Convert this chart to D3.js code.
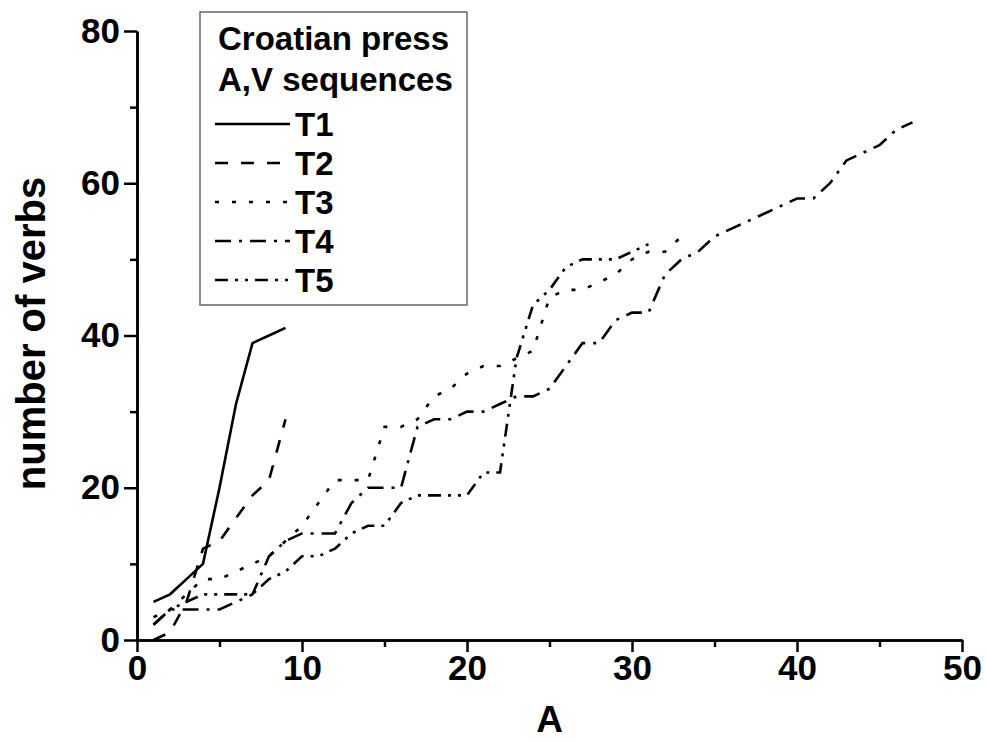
<!DOCTYPE html>
<html>
<head>
<meta charset="utf-8">
<script src="https://cdn.jsdelivr.net/npm/d3@7/dist/d3.min.js"></script>
<style>
  body { margin: 0; background: #fff; }
  text { font-family: "Liberation Sans", Arial, sans-serif; font-weight: bold; fill: #000; }
</style>
</head>
<body>
<svg id="chart" width="986" height="742"></svg>
<script>
// [A, number of verbs]
const t1 = [[1,5],[2,6],[3,8],[4,10],[5,20],[6,31],[7,39],[8,40],[9,41]];
const t2 = [[1,0],[2,1],[3,5],[4,12],[5,13],[6,16],[7,19],[8,21],[9,29]];
const t3 = [[1,3],[2,4],[3,6],[4,8],[5,8],[6,9],[7,10],[8,11],[9,13],[10,15],[11,18],[12,21],[13,21],[14,21],
  [15,28],[16,28],[17,29],[18,32],[19,33],[20,35],[21,36],[22,36],[23,37],[24,38],[25,45],[26,46],[27,46],
  [28,47],[29,48],[30,50],[31,51],[32,51],[33,53]];
const t4 = [[1,2],[2,4],[3,4],[4,4],[5,4],[6,5],[7,6],[8,11],[9,13],[10,14],[11,14],[12,14],[13,18],[14,20],
  [15,20],[16,20],[17,28],[18,29],[19,29],[20,30],[21,30],[22,31],[23,32],[24,32],[25,33],[26,36],[27,39],
  [28,39],[29,42],[30,43],[31,43],[32,48],[33,50],[34,51],[35,53],[36,54],[37,55],[38,56],[39,57],[40,58],
  [41,58],[42,60],[43,63],[44,64],[45,65],[46,67],[47,68]];
const t5 = [[1,2],[2,4],[3,5],[4,6],[5,6],[6,6],[7,6],[8,8],[9,9],[10,11],[11,11],[12,12],[13,14],[14,15],
  [15,15],[16,18],[17,19],[18,19],[19,19],[20,19],[21,22],[22,22],[23,37],[24,44],[25,46],[26,49],[27,50],
  [28,50],[29,50],[30,51],[31,52]];

const seriesNames = ["T1", "T2", "T3", "T4", "T5"];
const seriesData = [t1, t2, t3, t4, t5];
const dashes = [null, "13,13", "4,13", "16,8,3,8", "13,7,3,7,3,7"];

const xMajor = [0, 10, 20, 30, 40, 50];
const xMinor = [5, 15, 25, 35, 45];
const yMajor = [0, 20, 40, 60, 80];
const yMinor = [10, 30, 50, 70];
const legendTitle = ["Croatian press", "A,V sequences"];

const svg = d3.select("#chart");
const margin = {left: 137, right: 24, top: 31, bottom: 102};
const width = 986, height = 742;

const x = d3.scaleLinear().domain([0, 50]).range([margin.left, width - margin.right]);
const y = d3.scaleLinear().domain([0, 80]).range([height - margin.bottom, margin.top]);

// axes
function styleAxis(g) {
  g.select(".domain").attr("stroke", "#000").attr("stroke-width", 2.5);
  g.selectAll(".tick line").attr("stroke", "#000").attr("stroke-width", 2.5);
  g.selectAll(".tick text").style("font-size", "35px");
}

svg.append("g").attr("transform", `translate(0,${y(0)})`)
  .call(d3.axisBottom(x).tickValues(xMinor).tickSize(7).tickSizeOuter(0).tickFormat(""))
  .call(styleAxis);
svg.append("g").attr("transform", `translate(0,${y(0)})`)
  .call(d3.axisBottom(x).tickValues(xMajor).tickSize(12).tickSizeOuter(0).tickPadding(3))
  .call(styleAxis);
svg.append("g").attr("transform", `translate(${x(0)},0)`)
  .call(d3.axisLeft(y).tickValues(yMinor).tickSize(7).tickSizeOuter(0).tickFormat(""))
  .call(styleAxis);
svg.append("g").attr("transform", `translate(${x(0)},0)`)
  .call(d3.axisLeft(y).tickValues(yMajor).tickSize(13).tickSizeOuter(0).tickPadding(4))
  .call(styleAxis);

svg.append("text").attr("x", (x(0) + x(50)) / 2).attr("y", 732)
  .attr("text-anchor", "middle").style("font-size", "37px").text("A");
svg.append("text").attr("transform", `translate(45,${(y(0) + y(80)) / 2 - 2}) rotate(-90)`)
  .attr("text-anchor", "middle").style("font-size", "40px").text("number of verbs");

// lines
const line = d3.line().x(d => x(d[0])).y(d => y(d[1]));
svg.append("g").selectAll("path")
  .data(seriesData)
  .join("path")
    .attr("d", line)
    .attr("fill", "none")
    .attr("stroke", "#000")
    .attr("stroke-width", 2.6)
    .attr("stroke-dasharray", (d, i) => dashes[i]);

// legend
const legend = svg.append("g").attr("class", "legend");
legend.append("rect").attr("x", 200).attr("y", 12).attr("width", 267).attr("height", 293)
  .attr("fill", "#fff").attr("stroke", "#666").attr("stroke-width", 1.5);
legend.selectAll("text.title")
  .data(legendTitle)
  .join("text").attr("class", "title")
    .attr("x", 218).attr("y", (d, i) => 50 + i * 41)
    .style("font-size", "33px").text(d => d);
const items = legend.selectAll("g.item")
  .data(seriesNames)
  .join("g").attr("class", "item")
    .attr("transform", (d, i) => `translate(0,${136 + i * 39})`);
items.append("line").attr("x1", 215).attr("x2", 290).attr("y1", -12).attr("y2", -12)
  .attr("stroke", "#000").attr("stroke-width", 2.6)
  .attr("stroke-dasharray", (d, i) => dashes[i]);
items.append("text").attr("x", 295).attr("y", 0).style("font-size", "33px").text(d => d);
</script>
</body>
</html>
